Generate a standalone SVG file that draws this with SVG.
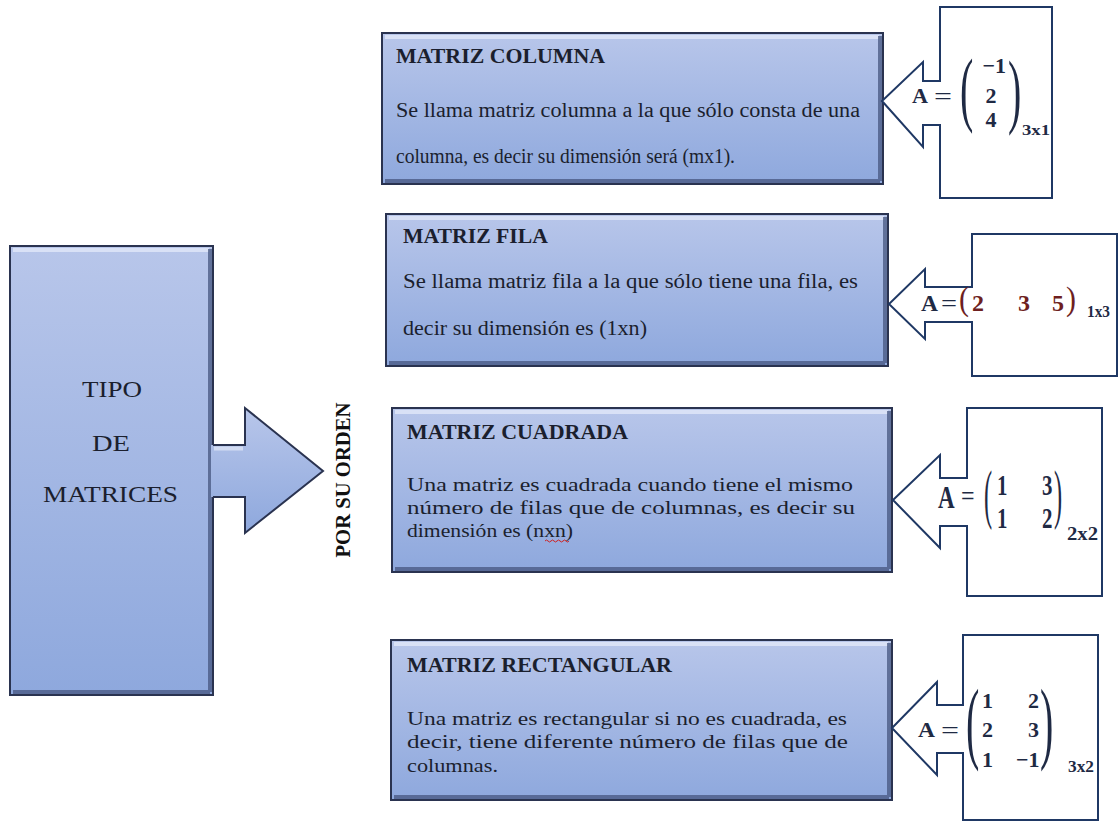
<svg xmlns="http://www.w3.org/2000/svg" width="1119" height="822" viewBox="0 0 1119 822">
<defs>
<linearGradient id="g" x1="0" y1="0" x2="0" y2="1">
<stop offset="0" stop-color="#b8c6ea"/>
<stop offset="1" stop-color="#8ea8dd"/>
</linearGradient>
</defs>
<style>
.box{fill:url(#g);stroke:#2a3350;stroke-width:2}
.hl{fill:none;stroke:#e4eaf9;stroke-width:4;opacity:.75}
.sh{fill:none;stroke:#45557f;stroke-width:4;opacity:.75}
.h{font-family:"Liberation Serif","Times New Roman",serif;font-weight:bold;font-size:21.5px;fill:#1b1f2e}
.b{font-family:"Liberation Serif","Times New Roman",serif;font-size:20px;fill:#1b1f2e}
.s{font-size:18px}
.big{font-family:"Liberation Serif","Times New Roman",serif;font-size:23px;fill:#1b1f2e;text-anchor:middle}
.co{fill:#fff;stroke:#1f3864;stroke-width:2}
.m{font-family:"Liberation Serif","Times New Roman",serif;font-weight:bold;fill:#1f2a44}
.eq{font-family:"Liberation Serif","Times New Roman",serif;fill:#1f2a44}
.p{font-family:"Liberation Serif","Times New Roman",serif;fill:#1f2a44}
.r{fill:#6e1f1f}
</style>

<g id="tipo">
<rect class="box" x="10" y="246" width="203" height="449"/>
<path class="hl" d="M13,250 H209"/>
<path class="sh" d="M13,692 H210 M210,249 V692"/>
<text class="big" x="112" y="397" textLength="60" lengthAdjust="spacingAndGlyphs">TIPO</text>
<text class="big" x="111" y="451" textLength="38" lengthAdjust="spacingAndGlyphs">DE</text>
<text class="big" x="110.5" y="502" textLength="135" lengthAdjust="spacingAndGlyphs">MATRICES</text>
</g>

<g id="connectors">
<path d="M211,445 H245 V408 L323,471 L245,533 V497 H211 Z" fill="url(#g)"/>
<path d="M213,445 H245 V408 L323,471 L245,533 V497 H213" fill="none" stroke="#2a3350" stroke-width="2"/>
<path d="M214,448.5 H243" stroke="#e4eaf9" stroke-width="4" opacity=".7"/>
<text transform="translate(350,480) rotate(-90)" font-family="Liberation Serif, Times New Roman, serif" font-weight="bold" font-size="21" fill="#111" text-anchor="middle" textLength="155" lengthAdjust="spacingAndGlyphs">POR SU ORDEN</text>
</g>

<g id="columna">
<rect class="box" x="382" y="33" width="501" height="151"/>
<path class="hl" d="M385,37 H879"/>
<path class="sh" d="M385,181 H880 M880,36 V181"/>
<text class="h" x="396" y="63" textLength="209" lengthAdjust="spacingAndGlyphs">MATRIZ COLUMNA</text>
<text class="b" x="396" y="117" textLength="464" lengthAdjust="spacingAndGlyphs">Se llama matriz columna a la que sólo consta de una</text>
<text class="b" x="396" y="163" textLength="339" lengthAdjust="spacingAndGlyphs">columna, es decir su dimensión será (mx1).</text>
</g>

<g id="fila">
<rect class="box" x="386" y="214" width="502" height="152"/>
<path class="hl" d="M389,218 H884"/>
<path class="sh" d="M389,363 H885 M885,217 V363"/>
<text class="h" x="403" y="243" textLength="145" lengthAdjust="spacingAndGlyphs">MATRIZ FILA</text>
<text class="b" x="403" y="288" textLength="455" lengthAdjust="spacingAndGlyphs">Se llama matriz fila a la que sólo tiene una fila, es</text>
<text class="b" x="403" y="335" textLength="244" lengthAdjust="spacingAndGlyphs">decir su dimensión es (1xn)</text>
</g>

<g id="cuadrada">
<rect class="box" x="392" y="408" width="500" height="164"/>
<path class="hl" d="M395,412 H888"/>
<path class="sh" d="M395,569 H889 M889,411 V569"/>
<text class="h" x="407" y="439" textLength="221" lengthAdjust="spacingAndGlyphs">MATRIZ CUADRADA</text>
<text class="b s" x="407" y="491" textLength="446" lengthAdjust="spacingAndGlyphs">Una matriz es cuadrada cuando tiene el mismo</text>
<text class="b s" x="407" y="514" textLength="448" lengthAdjust="spacingAndGlyphs">número de filas que de columnas, es decir su</text>
<text class="b s" x="407" y="537" textLength="166" lengthAdjust="spacingAndGlyphs">dimensión es (nxn)</text>
<path d="M545,541 q1.5,-2 3,0 t3,0 t3,0 t3,0 t3,0 t3,0 t3,0 t3,0" fill="none" stroke="#d02020" stroke-width="1"/>
</g>

<g id="rectangular">
<rect class="box" x="391" y="640" width="501" height="160"/>
<path class="hl" d="M394,644 H888"/>
<path class="sh" d="M394,797 H889 M889,643 V797"/>
<text class="h" x="407" y="672" textLength="265" lengthAdjust="spacingAndGlyphs">MATRIZ RECTANGULAR</text>
<text class="b s" x="407" y="725" textLength="440" lengthAdjust="spacingAndGlyphs">Una matriz es rectangular si no es cuadrada, es</text>
<text class="b s" x="407" y="748" textLength="441" lengthAdjust="spacingAndGlyphs">decir, tiene diferente número de filas que de</text>
<text class="b s" x="407" y="772" textLength="91" lengthAdjust="spacingAndGlyphs">columnas.</text>
</g>

<g id="ej-columna">
<path class="co" d="M940,7 H1052 V198 H940 V125 H923 V147 L882,101 L923,62 V81 H940 Z"/>
<text class="m" x="912" y="103" font-size="21" textLength="16" lengthAdjust="spacingAndGlyphs">A</text>
<text class="eq" x="934" y="104" font-size="24" textLength="18" lengthAdjust="spacingAndGlyphs">=</text>
<text class="p" transform="translate(960,116) scale(1,2.05)" font-size="40">(</text>
<text class="m" x="1006" y="73" font-size="22" text-anchor="end">−1</text>
<text class="m" x="991" y="103" font-size="22" text-anchor="middle">2</text>
<text class="m" x="991" y="127" font-size="22" text-anchor="middle">4</text>
<text class="p" transform="translate(1008,118) scale(1,2.05)" font-size="40">)</text>
<text class="m" x="1022" y="135" font-size="15" textLength="28" lengthAdjust="spacingAndGlyphs">3x1</text>
</g>

<g id="ej-fila">
<path class="co" d="M972,234 H1117 V376 H972 V322 H925 V339 L889,304 L925,269 V287 H972 Z"/>
<text class="m" x="921" y="311" font-size="24" textLength="17" lengthAdjust="spacingAndGlyphs">A</text>
<text class="eq" x="941" y="311" font-size="24" textLength="16" lengthAdjust="spacingAndGlyphs">=</text>
<text class="p r" transform="translate(959,310) scale(1,1.15)" font-size="30">(</text>
<text class="m r" x="972" y="311" font-size="24">2</text>
<text class="m r" x="1018" y="311" font-size="24">3</text>
<text class="m r" x="1052" y="311" font-size="24">5</text>
<text class="p r" transform="translate(1066,310) scale(1,1.15)" font-size="30">)</text>
<text class="m" x="1087" y="317" font-size="16" textLength="23" lengthAdjust="spacingAndGlyphs">1x3</text>
</g>

<g id="ej-cuadrada">
<path class="co" d="M967,408 H1102 V596 H967 V526 H940 V548 L893,500 L940,455 V478 H967 Z"/>
<text class="m" transform="translate(938,508) scale(0.72,1)" font-size="32">A</text>
<text class="eq" transform="translate(961,506) scale(0.8,1)" font-size="30">=</text>
<text class="p" transform="translate(984,516) scale(0.72,1.93)" font-size="34">(</text>
<text class="m" transform="translate(997,495) scale(0.72,1)" font-size="29">1</text>
<text class="m" transform="translate(1042,495) scale(0.72,1)" font-size="29">3</text>
<text class="m" transform="translate(997,528) scale(0.72,1)" font-size="29">1</text>
<text class="m" transform="translate(1042,528) scale(0.72,1)" font-size="29">2</text>
<text class="p" transform="translate(1054,516) scale(0.72,1.93)" font-size="34">)</text>
<text class="m" x="1067" y="540" font-size="18" textLength="31" lengthAdjust="spacingAndGlyphs">2x2</text>
</g>

<g id="ej-rectangular">
<path class="co" d="M963,635 H1098 V820 H963 V753 H937 V775 L892,728 L937,682 V705 H963 Z"/>
<text class="m" x="918" y="737" font-size="21" textLength="17" lengthAdjust="spacingAndGlyphs">A</text>
<text class="eq" x="941" y="738" font-size="24" textLength="18" lengthAdjust="spacingAndGlyphs">=</text>
<text class="p" transform="translate(966,752) scale(1,2.29)" font-size="40">(</text>
<text class="m" x="982" y="708" font-size="22">1</text>
<text class="m" x="982" y="737" font-size="22">2</text>
<text class="m" x="982" y="767" font-size="22">1</text>
<text class="m" x="1028" y="708" font-size="22">2</text>
<text class="m" x="1028" y="737" font-size="22">3</text>
<text class="m" x="1016" y="767" font-size="22">−1</text>
<text class="p" transform="translate(1040,752) scale(1,2.29)" font-size="40">)</text>
<text class="m" x="1068" y="772" font-size="17" textLength="26" lengthAdjust="spacingAndGlyphs">3x2</text>
</g>
</svg>
